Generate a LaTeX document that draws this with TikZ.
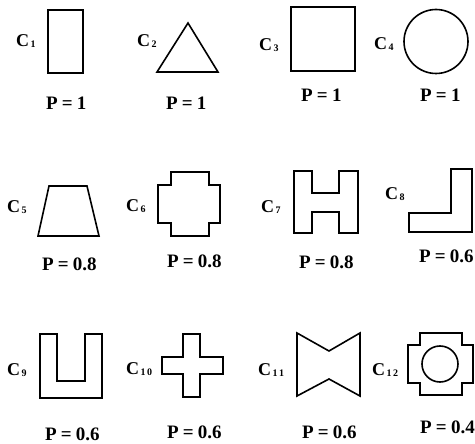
\documentclass[tikz,border=0pt]{standalone}
\usepackage{fontspec}
\setmainfont{Liberation Serif}
\tikzset{
  shp/.style={draw=black, line width=1.6pt, line join=miter},
  clab/.style={anchor=base west, inner sep=0pt, font=\fontsize{18}{20}\selectfont\bfseries},
  plab/.style={anchor=base west, inner sep=0pt, font=\fontsize{19}{21}\selectfont\bfseries}
}
\newcommand{\peq}[1]{P\hspace{0.22em}=\hspace{0.22em}#1}
\newcommand{\cs}[1]{C\hspace{0.08em}\raisebox{-1pt}{\fontsize{10}{11}\selectfont #1}}
\begin{document}
\begin{tikzpicture}[x=1pt, y=-1pt]
\useasboundingbox (0,0) rectangle (475,444);
% Row 1
\draw[shp] (48,10) rectangle (83,73);
\draw[shp] (188,23) -- (157,72) -- (218,72) -- cycle;
\draw[shp] (291,7) rectangle (355,71);
\draw[shp] (436,41.5) circle (32pt);
% Row 2
\draw[shp] (49,186) -- (87,186) -- (99,236) -- (38,236) -- cycle;
\draw[shp] (171,172) -- (209,172) -- (209,185) -- (220,185) -- (220,223) -- (209,223) -- (209,236) -- (171,236) -- (171,223) -- (158,223) -- (158,185) -- (171,185) -- cycle;
\draw[shp] (294,171) -- (312,171) -- (312,193) -- (339,193) -- (339,171) -- (358,171) -- (358,233) -- (339,233) -- (339,212) -- (312,212) -- (312,233) -- (294,233) -- cycle;
\draw[shp] (451,169) -- (472,169) -- (472,232) -- (409,232) -- (409,213) -- (451,213) -- cycle;
% Row 3
\draw[shp] (40,334) -- (57,334) -- (57,381) -- (85,381) -- (85,334) -- (102,334) -- (102,398) -- (40,398) -- cycle;
\draw[shp] (183,334) -- (200,334) -- (200,357) -- (223,357) -- (223,374) -- (200,374) -- (200,397) -- (183,397) -- (183,374) -- (162,374) -- (162,357) -- (183,357) -- cycle;
\draw[shp] (297,333) -- (329,351) -- (360,333) -- (360,396) -- (329,379) -- (297,396) -- cycle;
\draw[shp] (420,333) -- (462,333) -- (462,345) -- (473,345) -- (473,383) -- (462,383) -- (462,395) -- (420,395) -- (420,383) -- (408,383) -- (408,345) -- (420,345) -- cycle;
\draw[shp] (440,364) circle (18pt);
% C labels
\node[clab] (c1) at (16,47) {\cs{1}};
\node[clab] (c2) at (137,47) {\cs{2}};
\node[clab] (c3) at (259,51) {\cs{3}};
\node[clab] (c4) at (374,50) {\cs{4}};
\node[clab] (c5) at (7,213) {\cs{5}};
\node[clab] (c6) at (126,212) {\cs{6}};
\node[clab] (c7) at (261,213) {\cs{7}};
\node[clab] (c8) at (385,200) {\cs{8}};
\node[clab] (c9) at (7,375) {\cs{9}};
\node[clab] (c10) at (126,374) {\cs{1\hspace{0.15em}0}};
\node[clab] (c11) at (258,375) {\cs{1\hspace{0.15em}1}};
\node[clab] (c12) at (372,375) {\cs{1\hspace{0.15em}2}};
% P labels
\node[plab] (p1) at (46,110) {\peq{1}};
\node[plab] (p2) at (166,110) {\peq{1}};
\node[plab] (p3) at (301,102) {\peq{1}};
\node[plab] (p4) at (420,102) {\peq{1}};
\node[plab] (p5) at (42,271) {\peq{0.8}};
\node[plab] (p6) at (167,268) {\peq{0.8}};
\node[plab] (p7) at (299,269) {\peq{0.8}};
\node[plab] (p8) at (419,262) {\peq{0.6}};
\node[plab] (p9) at (45,440) {\peq{0.6}};
\node[plab] (p10) at (167,438) {\peq{0.6}};
\node[plab] (p11) at (302,438) {\peq{0.6}};
\node[plab] (p12) at (420,433) {\peq{0.4}};
\end{tikzpicture}
\end{document}
